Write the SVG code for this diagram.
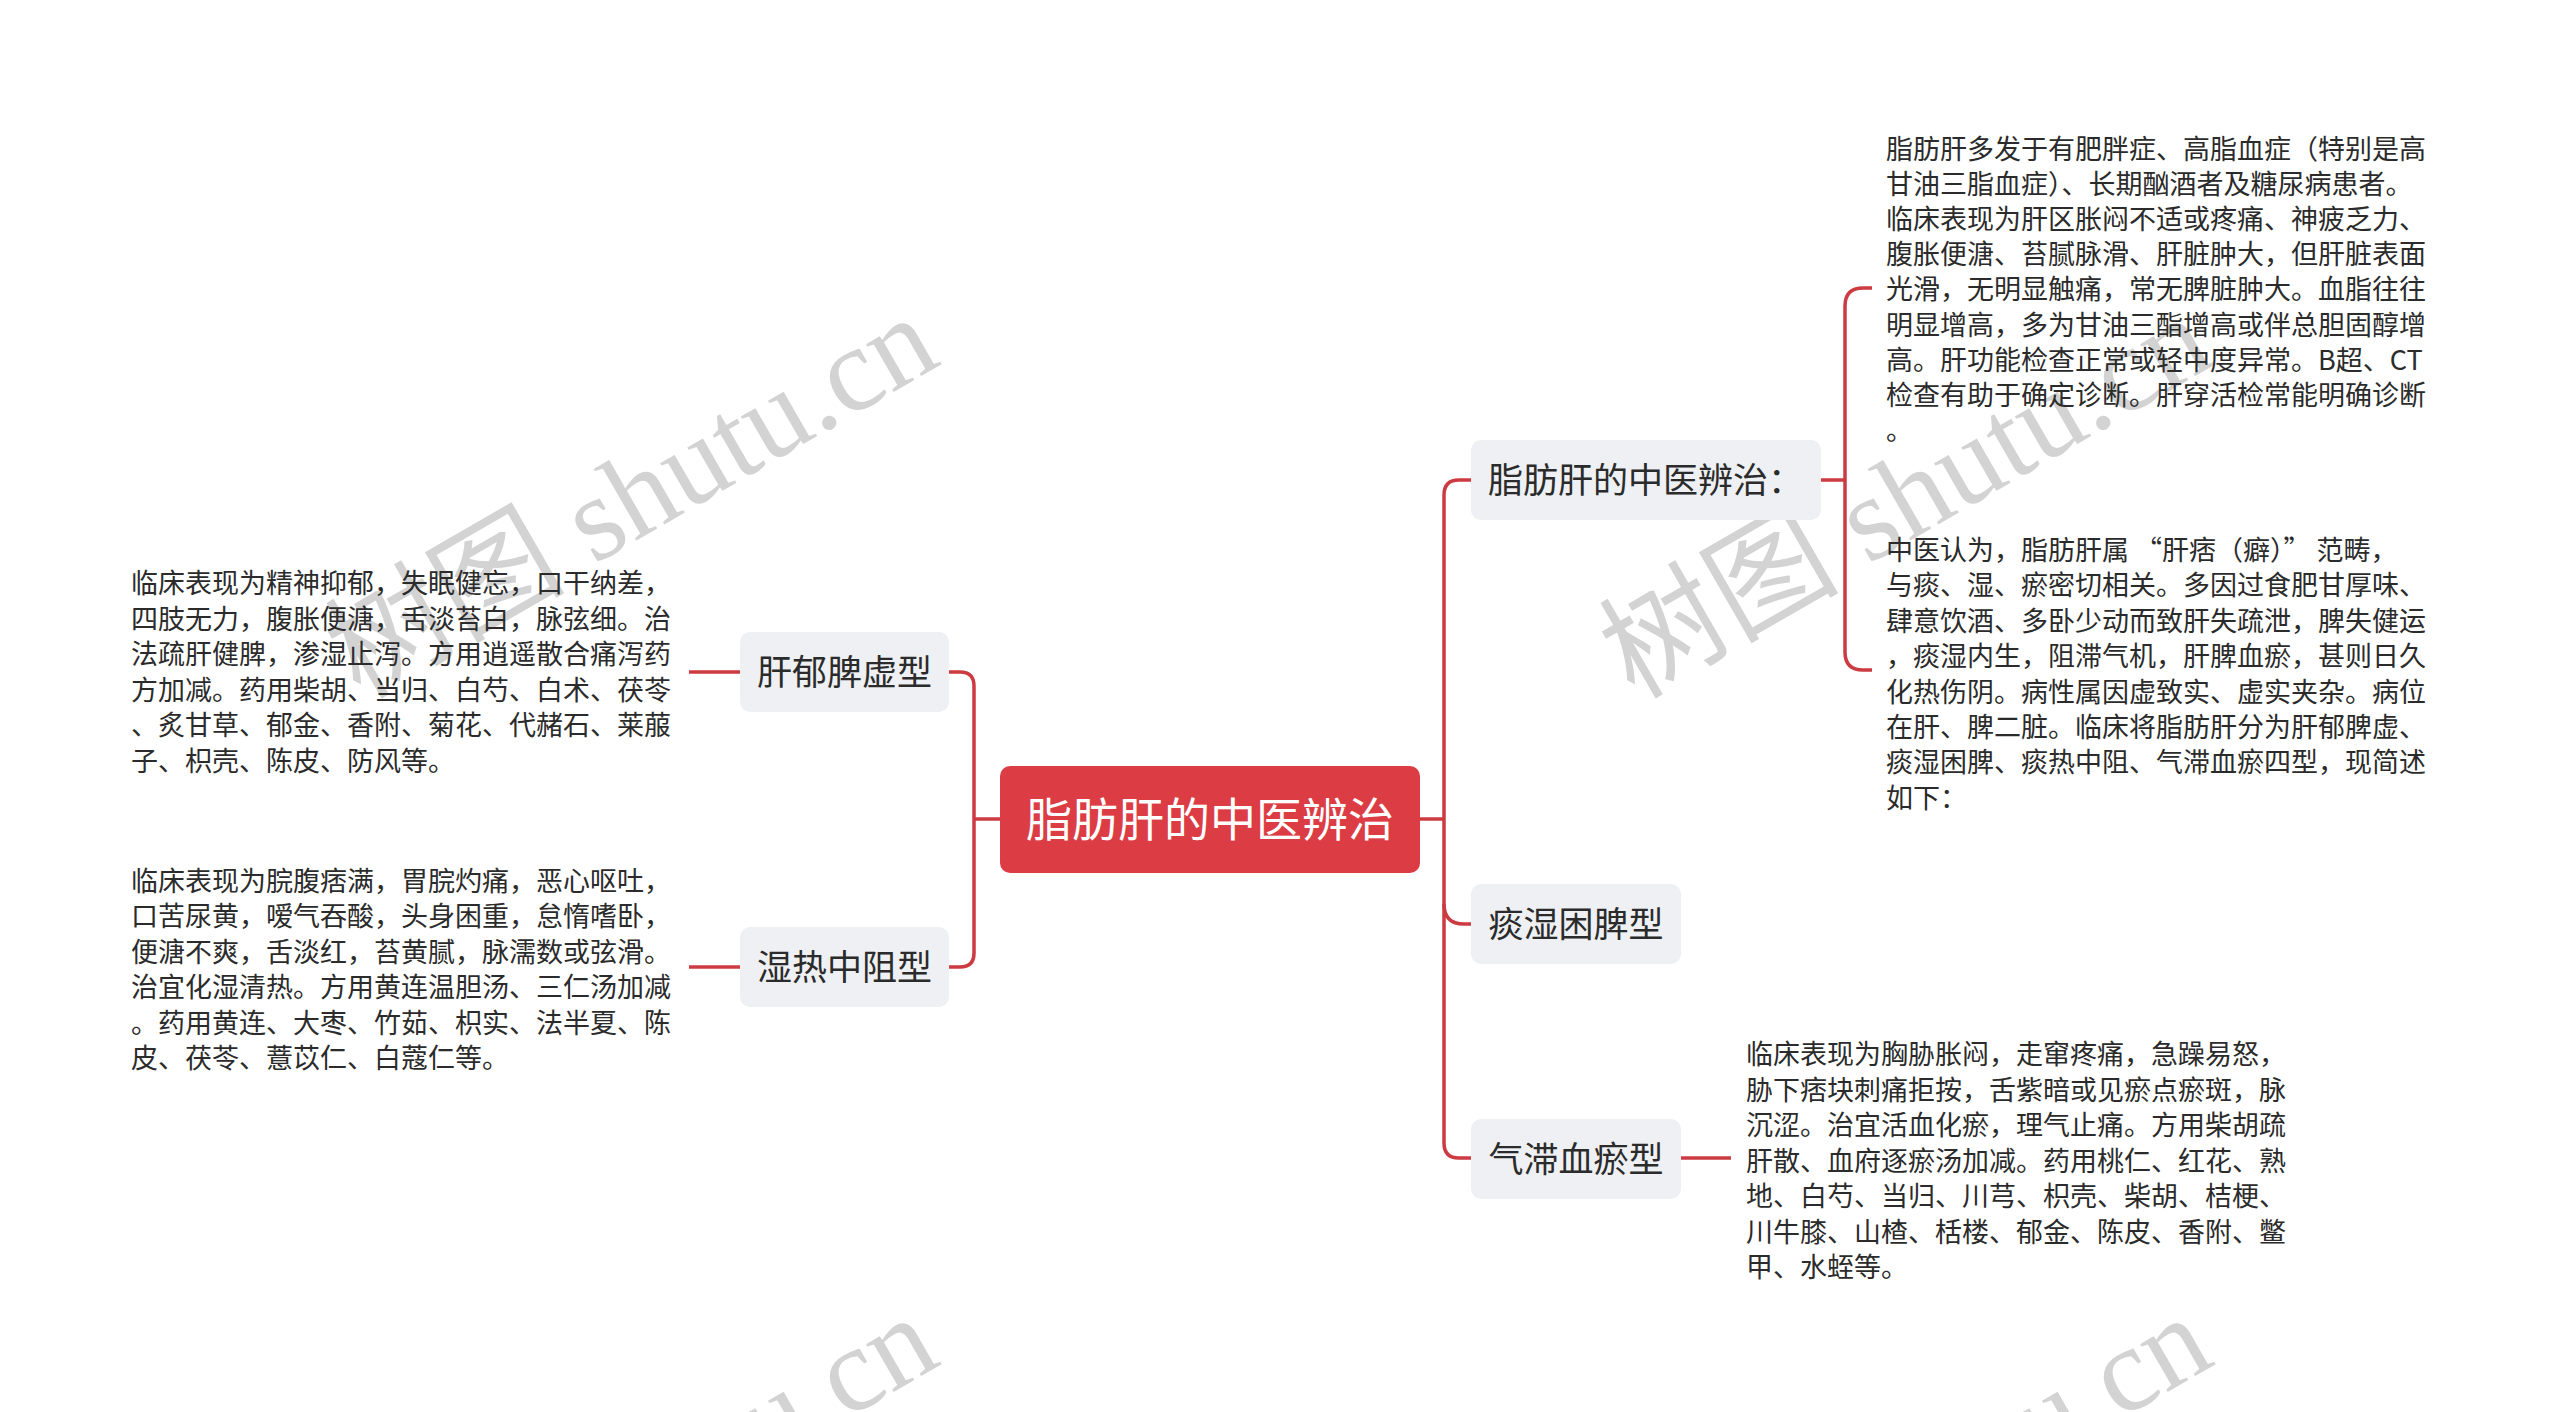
<svg xmlns="http://www.w3.org/2000/svg" width="2560" height="1412" viewBox="0 0 2560 1412">
<style>
.wm{font-family:"Liberation Serif","Noto Sans CJK SC",serif;font-size:120px;fill:#d3d3d3}
.conn{fill:none;stroke:#cc3a42;stroke-width:3.5;stroke-linecap:butt}
.box{fill:#eef0f3}
.lbl{font-family:"Noto Sans CJK SC","Noto Sans",sans-serif;font-size:35px;fill:#2b2b2b}
.root-box{fill:#dc3c44}
.root-lbl{font-family:"Noto Sans CJK SC","Noto Sans",sans-serif;font-size:46px;fill:#ffffff}
.txt{font-family:"Noto Sans CJK SC","Noto Sans",sans-serif;font-size:27px;fill:#2b2b2b}
</style>
<rect width="2560" height="1412" fill="#ffffff"/>
<g id="watermarks">
<text class="wm" transform="translate(360,700) rotate(-30)">树图 shutu.cn</text>
<text class="wm" transform="translate(1634,700) rotate(-30)">树图 shutu.cn</text>
<text class="wm" transform="translate(360,1700) rotate(-30)">树图 shutu.cn</text>
<text class="wm" transform="translate(1634,1700) rotate(-30)">树图 shutu.cn</text>
</g>
<g id="connectors">
<path class="conn" d="M1000 819 H974"/>
<path class="conn" d="M949 672 H960 Q974 672 974 686 V953 Q974 967 960 967 H949"/>
<path class="conn" d="M740 672 H689"/>
<path class="conn" d="M740 967 H689"/>
<path class="conn" d="M1420 819 H1444"/>
<path class="conn" d="M1471 480 H1459 Q1444 480 1444 495 V1143 Q1444 1158 1459 1158 H1471"/>
<path class="conn" d="M1444 904 Q1444 924 1464 924 H1471"/>
<path class="conn" d="M1681 1158 H1731"/>
<path class="conn" d="M1821 480 H1845"/>
<path class="conn" d="M1872 288 H1863 Q1845 288 1845 306 V652 Q1845 670 1863 670 H1872"/>
</g>
<g id="root">
<rect class="root-box" x="1000" y="766" width="420" height="107" rx="10"/>
<text class="root-lbl" x="1210" y="836" text-anchor="middle">脂肪肝的中医辨治</text>
</g>
<g id="node-gyps">
<rect class="box" x="740" y="632" width="209" height="80" rx="10"/>
<text class="lbl" x="844.5" y="685" text-anchor="middle">肝郁脾虚型</text>
</g>
<g id="node-srzz">
<rect class="box" x="740" y="927" width="209" height="80" rx="10"/>
<text class="lbl" x="844.5" y="980" text-anchor="middle">湿热中阻型</text>
</g>
<g id="node-bz">
<rect class="box" x="1471" y="440" width="350" height="80" rx="10"/>
<text class="lbl" x="1488" y="493">脂肪肝的中医辨治：</text>
</g>
<g id="node-tskp">
<rect class="box" x="1471" y="884" width="210" height="80" rx="10"/>
<text class="lbl" x="1576" y="937" text-anchor="middle">痰湿困脾型</text>
</g>
<g id="node-qzxy">
<rect class="box" x="1471" y="1119" width="210" height="80" rx="10"/>
<text class="lbl" x="1576" y="1172" text-anchor="middle">气滞血瘀型</text>
</g>
<g id="text-gyps">
<text class="txt" x="131">
<tspan x="131" y="593">临床表现为精神抑郁，失眠健忘，口干纳差，</tspan>
<tspan x="131" y="628.5">四肢无力，腹胀便溏，舌淡苔白，脉弦细。治</tspan>
<tspan x="131" y="664">法疏肝健脾，渗湿止泻。方用逍遥散合痛泻药</tspan>
<tspan x="131" y="699.5">方加减。药用柴胡、当归、白芍、白术、茯苓</tspan>
<tspan x="131" y="735">、炙甘草、郁金、香附、菊花、代赭石、莱菔</tspan>
<tspan x="131" y="770.5">子、枳壳、陈皮、防风等。</tspan>
</text>
</g>
<g id="text-srzz">
<text class="txt" x="131">
<tspan x="131" y="891">临床表现为脘腹痞满，胃脘灼痛，恶心呕吐，</tspan>
<tspan x="131" y="926.4">口苦尿黄，嗳气吞酸，头身困重，怠惰嗜卧，</tspan>
<tspan x="131" y="961.8">便溏不爽，舌淡红，苔黄腻，脉濡数或弦滑。</tspan>
<tspan x="131" y="997.2">治宜化湿清热。方用黄连温胆汤、三仁汤加减</tspan>
<tspan x="131" y="1032.6">。药用黄连、大枣、竹茹、枳实、法半夏、陈</tspan>
<tspan x="131" y="1068">皮、茯苓、薏苡仁、白蔻仁等。</tspan>
</text>
</g>
<g id="text-bz1">
<text class="txt" x="1886">
<tspan x="1886" y="159">脂肪肝多发于有肥胖症、高脂血症（特别是高</tspan>
<tspan x="1886" y="194.1">甘油三脂血症）、长期酗酒者及糖尿病患者。</tspan>
<tspan x="1886" y="229.2">临床表现为肝区胀闷不适或疼痛、神疲乏力、</tspan>
<tspan x="1886" y="264.3">腹胀便溏、苔腻脉滑、肝脏肿大，但肝脏表面</tspan>
<tspan x="1886" y="299.4">光滑，无明显触痛，常无脾脏肿大。血脂往往</tspan>
<tspan x="1886" y="334.5">明显增高，多为甘油三酯增高或伴总胆固醇增</tspan>
<tspan x="1886" y="369.6">高。肝功能检查正常或轻中度异常。B超、CT</tspan>
<tspan x="1886" y="404.7">检查有助于确定诊断。肝穿活检常能明确诊断</tspan>
<tspan x="1886" y="439.8">。</tspan>
</text>
</g>
<g id="text-bz2">
<text class="txt" x="1886">
<tspan x="1886" y="560">中医认为，脂肪肝属 “肝痞（癖）” 范畴，</tspan>
<tspan x="1886" y="595.4">与痰、湿、瘀密切相关。多因过食肥甘厚味、</tspan>
<tspan x="1886" y="630.8">肆意饮酒、多卧少动而致肝失疏泄，脾失健运</tspan>
<tspan x="1886" y="666.2">，痰湿内生，阻滞气机，肝脾血瘀，甚则日久</tspan>
<tspan x="1886" y="701.6">化热伤阴。病性属因虚致实、虚实夹杂。病位</tspan>
<tspan x="1886" y="737">在肝、脾二脏。临床将脂肪肝分为肝郁脾虚、</tspan>
<tspan x="1886" y="772.4">痰湿困脾、痰热中阻、气滞血瘀四型，现简述</tspan>
<tspan x="1886" y="807.8">如下：</tspan>
</text>
</g>
<g id="text-qzxy">
<text class="txt" x="1746">
<tspan x="1746" y="1064">临床表现为胸胁胀闷，走窜疼痛，急躁易怒，</tspan>
<tspan x="1746" y="1099.5">胁下痞块刺痛拒按，舌紫暗或见瘀点瘀斑，脉</tspan>
<tspan x="1746" y="1135">沉涩。治宜活血化瘀，理气止痛。方用柴胡疏</tspan>
<tspan x="1746" y="1170.5">肝散、血府逐瘀汤加减。药用桃仁、红花、熟</tspan>
<tspan x="1746" y="1206">地、白芍、当归、川芎、枳壳、柴胡、桔梗、</tspan>
<tspan x="1746" y="1241.5">川牛膝、山楂、栝楼、郁金、陈皮、香附、鳖</tspan>
<tspan x="1746" y="1277">甲、水蛭等。</tspan>
</text>
</g>
</svg>
